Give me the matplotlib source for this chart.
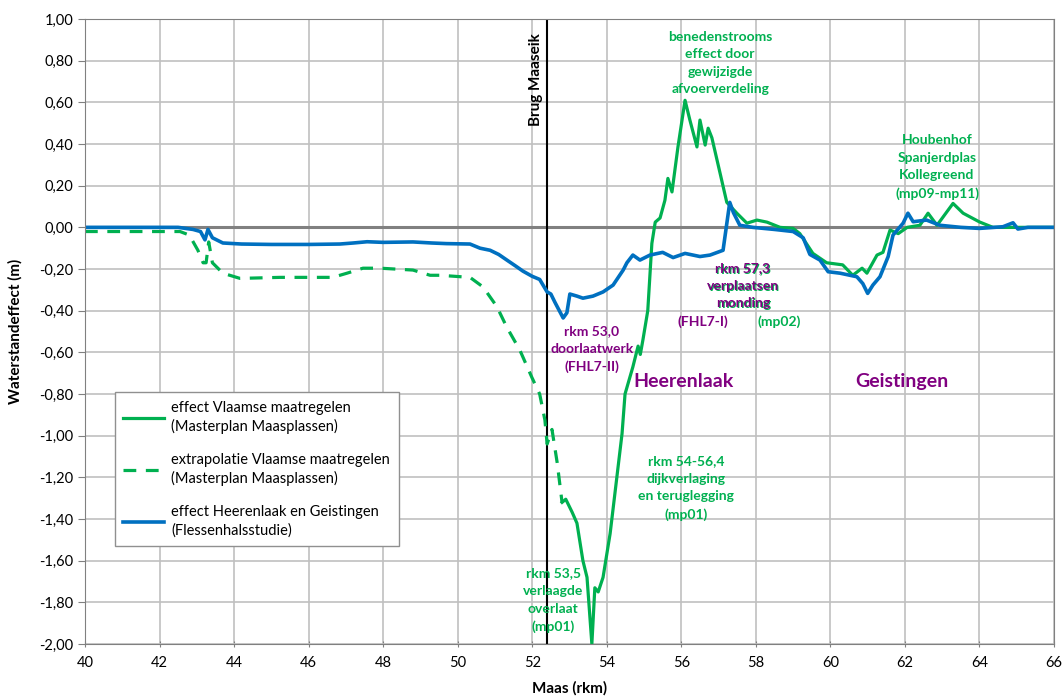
import matplotlib
matplotlib.use('Agg')
import matplotlib.pyplot as plt
from matplotlib.ticker import FuncFormatter, MultipleLocator

plt.rcParams['font.family'] = ['Lato', 'DejaVu Sans']

# effect Heerenlaak en Geistingen (blauw)
blauw_x = [40, 42.5, 42.9, 43.1, 43.22, 43.3, 43.42, 43.7, 44.2, 45, 46, 46.84, 47.2, 47.57, 48.0, 48.8,
           49.3, 49.7, 50.33, 50.6, 50.87, 51.1, 51.32, 51.55, 51.75, 52.0, 52.2, 52.4, 52.5, 52.61,
           52.83, 52.93, 53.01, 53.2, 53.36, 53.63, 53.9, 54.17, 54.44, 54.54, 54.7, 54.89, 55.16,
           55.5, 55.78, 56.1, 56.5, 56.77, 57.12, 57.3, 57.4, 57.57, 57.92, 58.5, 59.0, 59.27, 59.45,
           59.72, 59.94, 60.26, 60.71, 60.87, 61.0, 61.14, 61.33, 61.55, 61.68, 61.95, 62.08, 62.22,
           62.58, 62.94, 63.5, 64.0, 64.63, 64.9, 65.03, 65.3, 66]
blauw_y = [0.0, 0.0, -0.01, -0.02, -0.06, -0.01, -0.05, -0.075, -0.08, -0.082, -0.082, -0.08, -0.075,
           -0.069, -0.072, -0.07, -0.075, -0.078, -0.08, -0.10, -0.11, -0.13, -0.157, -0.185, -0.21,
           -0.235, -0.25, -0.31, -0.32, -0.36, -0.435, -0.41, -0.32, -0.33, -0.34, -0.33, -0.31,
           -0.277, -0.205, -0.17, -0.133, -0.157, -0.133, -0.12, -0.145, -0.125, -0.14, -0.133, -0.11,
           0.12, 0.07, 0.01, 0.0, -0.01, -0.02, -0.05, -0.13, -0.157, -0.213, -0.22, -0.237, -0.27,
           -0.317, -0.277, -0.237, -0.14, -0.037, 0.02, 0.068, 0.027, 0.035, 0.01, 0.0, -0.005, 0.003,
           0.022, -0.008, 0.0, 0.0]

# effect Vlaamse maatregelen (groen, doorgetrokken)
groen_x = [52.8, 52.9, 53.07, 53.2, 53.36, 53.47, 53.6, 53.68, 53.77, 53.9, 54.09, 54.27, 54.41, 54.49,
           54.7, 54.84, 54.9, 54.97, 55.1, 55.21, 55.3, 55.43, 55.56, 55.64, 55.75, 55.91, 56.1, 56.23,
           56.42, 56.5, 56.64, 56.72, 56.82, 57.04, 57.22, 57.49, 57.76, 58.03, 58.3, 58.65, 59.0,
           59.18, 59.53, 59.9, 60.33, 60.6, 60.85, 60.98, 61.25, 61.41, 61.6, 61.82, 62.06, 62.4,
           62.62, 62.86, 63.29, 63.56, 64.0, 64.36, 65.0, 66]
groen_y = [-1.32, -1.305, -1.367, -1.42, -1.6, -1.68, -2.0, -1.73, -1.75, -1.68, -1.47, -1.2, -0.99,
           -0.8, -0.67, -0.57, -0.61, -0.54, -0.4, -0.077, 0.025, 0.045, 0.13, 0.235, 0.17, 0.386,
           0.61, 0.515, 0.386, 0.515, 0.395, 0.476, 0.43, 0.26, 0.12, 0.068, 0.02, 0.035, 0.025, 0.0,
           -0.005, -0.03, -0.125, -0.17, -0.18, -0.23, -0.196, -0.22, -0.133, -0.12, -0.013, -0.03,
           0.0, 0.01, 0.068, 0.01, 0.115, 0.068, 0.026, 0.0, 0.0, 0.0]

# extrapolatie Vlaamse maatregelen (groen, gestreept)
extra_x = [40, 42.55, 42.8, 43.03, 43.17, 43.25, 43.32, 43.42, 43.7, 44.16, 45.23, 46.65, 47.03, 47.46,
           47.92, 48.8, 49.26, 49.52, 50.33, 50.68, 51.05, 51.32, 51.67, 51.99, 52.2, 52.34, 52.4,
           52.53, 52.67, 52.8]
extra_y = [-0.02, -0.02, -0.037, -0.11, -0.17, -0.17, -0.07, -0.17, -0.22, -0.245, -0.24, -0.24, -0.22,
           -0.196, -0.196, -0.205, -0.23, -0.23, -0.24, -0.286, -0.38, -0.48, -0.59, -0.72, -0.8,
           -0.925, -1.04, -0.97, -1.13, -1.32]

brug_rkm = 52.40

groen = '#00B050'
blauw = '#0070C0'
paars = '#800080'

fig = plt.figure(figsize=(10.62, 6.97), dpi=100)
ax = fig.add_axes([0.080, 0.076, 0.9125, 0.8967])

ax.plot(groen_x, groen_y, color=groen, lw=2.3,
        label='effect Vlaamse maatregelen\n(Masterplan Maasplassen)')
ax.plot(extra_x, extra_y, color=groen, lw=2.3, linestyle=(0, (4, 3)),
        label='extrapolatie Vlaamse maatregelen\n(Masterplan Maasplassen)')
ax.plot(blauw_x, blauw_y, color=blauw, lw=2.6,
        label='effect Heerenlaak en Geistingen\n(Flessenhalsstudie)')

# nul-lijn en brug
ax.axhline(0, color='#808080', lw=2.2, zorder=1)
ax.axvline(brug_rkm, color='black', lw=1.5, zorder=1)
ax.text(52.10, 0.707, 'Brug Maaseik', rotation=90, ha='center', va='center',
        fontsize=11, fontweight='bold', color='black')

# assen
ax.set_xlim(40, 66)
ax.set_ylim(-2, 1)
ax.xaxis.set_major_locator(MultipleLocator(2))
ax.yaxis.set_major_locator(MultipleLocator(0.2))
ax.yaxis.set_major_formatter(FuncFormatter(lambda v, p: f'{v:.2f}'.replace('.', ',').replace('-0,00', '0,00')))
ax.tick_params(labelsize=10.5, length=5, color='#808080')
ax.tick_params(axis='x', direction='inout', pad=6)
ax.grid(True, color='#C0C0C0', lw=1.2)
ax.set_axisbelow(True)
for s in ax.spines.values():
    s.set_color('#808080')
ax.set_xlabel('Maas (rkm)', fontsize=11, fontweight='bold', labelpad=8)
ax.set_ylabel('Waterstandeffect (m)', fontsize=11, fontweight='bold', labelpad=12)

# teksten
kw = dict(ha='center', va='center', fontsize=10, fontweight='bold', linespacing=1.55)
ax.text(57.04, 0.79, 'benedenstrooms\neffect door\ngewijzigde\nafvoerverdeling', color=groen, **kw)
ax.text(62.86, 0.29, 'Houbenhof\nSpanjerdplas\nKollegreend\n(mp09-mp11)', color=groen, **kw)
ax.annotate('rkm 57,3\nverplaatsen\nmonding', (57.65, -0.28), xytext=(0.8, -0.8),
            textcoords='offset points', color=groen, **kw)
ax.text(57.65, -0.28, 'rkm 57,3\nverplaatsen\nmonding', color=paars, **kw)
ax.text(56.58, -0.455, '(FHL7-I)', color=paars, **kw)
ax.text(58.62, -0.455, '(mp02)', color=groen, **kw)
ax.text(53.6, -0.585, 'rkm 53,0\ndoorlaatwerk\n(FHL7-II)', color=paars, **kw)
ax.text(56.05, -0.74, 'Heerenlaak', color=paars, ha='center', va='center', fontsize=14, fontweight='bold')
ax.text(61.92, -0.74, 'Geistingen', color=paars, ha='center', va='center', fontsize=14, fontweight='bold')
ax.text(56.13, -1.25, 'rkm 54-56,4\ndijkverlaging\nen teruglegging\n(mp01)', color=groen, **kw)
ax.text(52.56, -1.79, 'rkm 53,5\nverlaagde\noverlaat\n(mp01)', color=groen, **kw)

leg = ax.legend(loc='lower left', bbox_to_anchor=(0.023, 0.145), fontsize=10.5, frameon=True,
                fancybox=False, edgecolor='#909090', framealpha=1, handlelength=2.8,
                labelspacing=1.3, borderpad=0.6, handletextpad=0.5)
leg.get_frame().set_linewidth(1.0)
for t in leg.get_texts():
    t.set_linespacing(1.35)

plt.savefig('out.png', dpi=100)
plt.close()
